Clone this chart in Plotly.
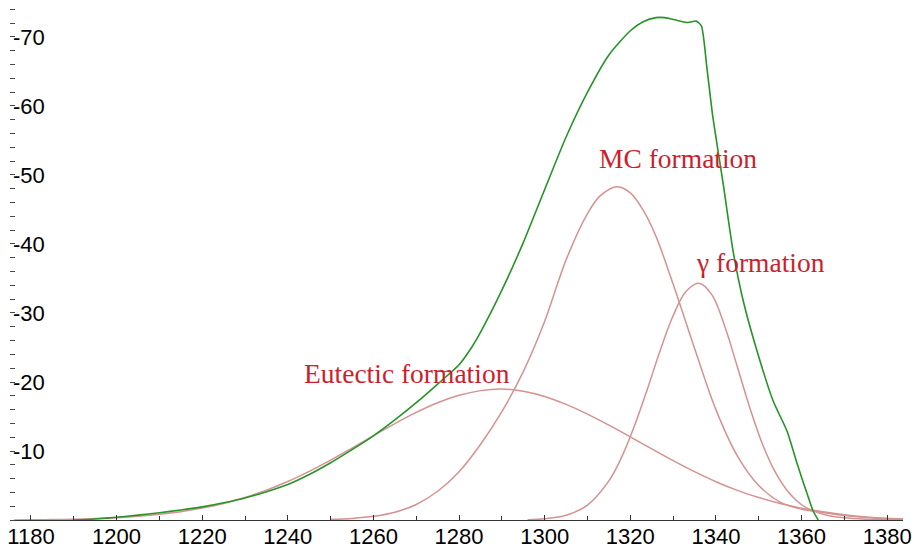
import plotly.graph_objects as go

# ---------------- data ----------------
total_x = [1190, 1195, 1200, 1205, 1210, 1215, 1220, 1225, 1230, 1235, 1240, 1245, 1250,
           1255, 1260, 1265, 1270, 1275, 1280, 1282.5, 1285, 1290, 1295, 1300, 1305,
           1310, 1315, 1320, 1323, 1326, 1328, 1331, 1333.5, 1335.4, 1336.6, 1337.9, 1339.3,
           1341.7, 1344, 1346.4, 1349.6, 1353.4, 1356.6, 1359, 1361.3, 1362.7, 1363.9]
total_y = [0.0, -0.15, -0.4, -0.7, -1.05, -1.45, -1.9, -2.5, -3.2, -4.1, -5.15, -6.6, -8.3,
           -10.2, -12.2, -14.5, -17.0, -19.7, -22.5, -24.6, -27.2, -33.3, -40.2, -47.9, -55.5,
           -62.0, -67.4, -70.9, -72.2, -72.8, -72.8, -72.4, -72.1, -72.3, -71.6, -65.5, -58.3,
           -48.7, -39.0, -31.7, -24.5, -17.2, -12.9, -8.1, -3.8, -1.3, 0.0]

eutectic_x = [1176, 1180, 1185, 1190, 1195, 1200, 1205, 1210, 1215, 1220, 1225, 1230, 1235,
              1240, 1245, 1250, 1255, 1260, 1265, 1270, 1275, 1280, 1285, 1290, 1295, 1300,
              1305, 1310, 1315, 1320, 1325, 1330, 1335, 1340, 1345, 1350, 1355, 1360, 1365,
              1370, 1375, 1380, 1385]
eutectic_y = [0.0, -0.03, -0.06, -0.12, -0.2, -0.34, -0.54, -0.82, -1.2, -1.72, -2.4, -3.27,
              -4.33, -5.58, -7.05, -8.68, -10.43, -12.22, -13.98, -15.6, -17.0, -18.07, -18.75,
              -18.98, -18.65, -17.9, -16.75, -15.35, -13.75, -12.05, -10.3, -8.6, -7.0, -5.55,
              -4.3, -3.25, -2.4, -1.72, -1.18, -0.76, -0.45, -0.25, -0.15]

mc_x = [1250, 1255, 1260, 1265, 1270, 1275, 1280, 1285, 1290, 1295, 1300, 1305, 1310, 1313,
        1317, 1320, 1323, 1326, 1330, 1335, 1340, 1345, 1350, 1355, 1360, 1363, 1367, 1370,
        1375, 1380, 1384]
mc_y = [-0.1, -0.23, -0.53, -1.13, -2.25, -4.17, -7.0, -10.95, -15.7, -21.5, -28.8, -37.7,
        -44.4, -47.0, -48.3, -47.4, -44.9, -41.1, -34.2, -24.9, -16.0, -9.3, -5.0, -2.6,
        -1.57, -1.26, -0.9, -0.65, -0.35, -0.15, -0.08]

gamma_x = [1296, 1300, 1305, 1310, 1315, 1318, 1321, 1324, 1327, 1330, 1333, 1336, 1339,
           1342, 1345, 1348, 1351, 1354, 1357, 1360, 1363, 1366, 1370, 1375, 1380, 1384]
gamma_y = [-0.05, -0.17, -0.68, -2.17, -5.67, -9.14, -13.7, -19.0, -24.6, -29.6, -33.1,
           -34.3, -32.7, -28.2, -22.2, -16.1, -10.8, -6.79, -3.99, -2.21, -1.25, -0.7,
           -0.32, -0.12, -0.04, -0.01]

x_tick_vals = [1180, 1200, 1220, 1240, 1260, 1280, 1300, 1320, 1340, 1360, 1380]
x_tick_text = ["1180", "1200", "1220", "1240", "1260", "1280", "1300", "1320", "1340", "1360", "1380"]
y_tick_vals = [-10, -20, -30, -40, -50, -60, -70]
y_tick_text = ["-10", "-20", "-30", "-40", "-50", "-60", "-70"]

labels = ["Eutectic formation", "MC formation", "\u03b3 formation"]
label_x = [1243.3, 1312.3, 1334.9]
label_y = [-21.3, -52.4, -37.3]

# ---------------- figure ----------------
GREEN = "rgb(38,148,38)"
PINK = "rgb(214,145,145)"
TEXT_RED = "rgb(205,30,45)"

fig = go.Figure()
for xs, ys in [(eutectic_x, eutectic_y), (mc_x, mc_y), (gamma_x, gamma_y)]:
    fig.add_trace(go.Scatter(x=xs, y=ys, mode="lines",
                             line=dict(color=PINK, width=1.5, shape="spline", smoothing=1.0),
                             showlegend=False, hoverinfo="skip"))
fig.add_trace(go.Scatter(x=total_x, y=total_y, mode="lines",
                         line=dict(color=GREEN, width=1.6, shape="spline", smoothing=0.6),
                         showlegend=False, hoverinfo="skip"))

for t, lx, ly in zip(labels, label_x, label_y):
    fig.add_annotation(x=lx, y=ly, xref="x", yref="y", text=t, showarrow=False,
                       xanchor="left", yanchor="middle",
                       font=dict(family="Liberation Serif, Times New Roman, serif",
                                 size=27.5, color=TEXT_RED))

fig.update_layout(
    width=914, height=552, autosize=False,
    margin=dict(l=10, r=11, t=0, b=32, pad=0),
    paper_bgcolor="white", plot_bgcolor="white",
    font=dict(family="Liberation Sans, Arial, sans-serif", size=22, color="black"),
    xaxis=dict(range=[1175.1, 1383.7], showgrid=False, zeroline=False,
               showline=True, linecolor="#333333", linewidth=1,
               tickmode="array", tickvals=x_tick_vals, ticktext=x_tick_text,
               ticks="inside", ticklen=5, tickcolor="#333333", tickwidth=1,
               ticklabeloverflow="allow", ticklabelstandoff=-3,
               minor=dict(tickmode="linear", tick0=1170, dtick=10, ticks="inside",
                          ticklen=4, tickcolor="#333333", tickwidth=1, showgrid=False),
               tickfont=dict(size=22, color="black")),
    yaxis=dict(range=[0, -75.36], showgrid=False, zeroline=False, showline=False,
               tickmode="array", tickvals=y_tick_vals, ticktext=y_tick_text,
               ticks="", ticklabelposition="inside", ticklabeloverflow="allow",
               minor=dict(tickmode="linear", tick0=0, dtick=2, ticks="inside",
                          ticklen=5, tickcolor="#444444", tickwidth=1.2, showgrid=False),
               tickfont=dict(size=22, color="black")),
)

fig.write_html("out.html")
